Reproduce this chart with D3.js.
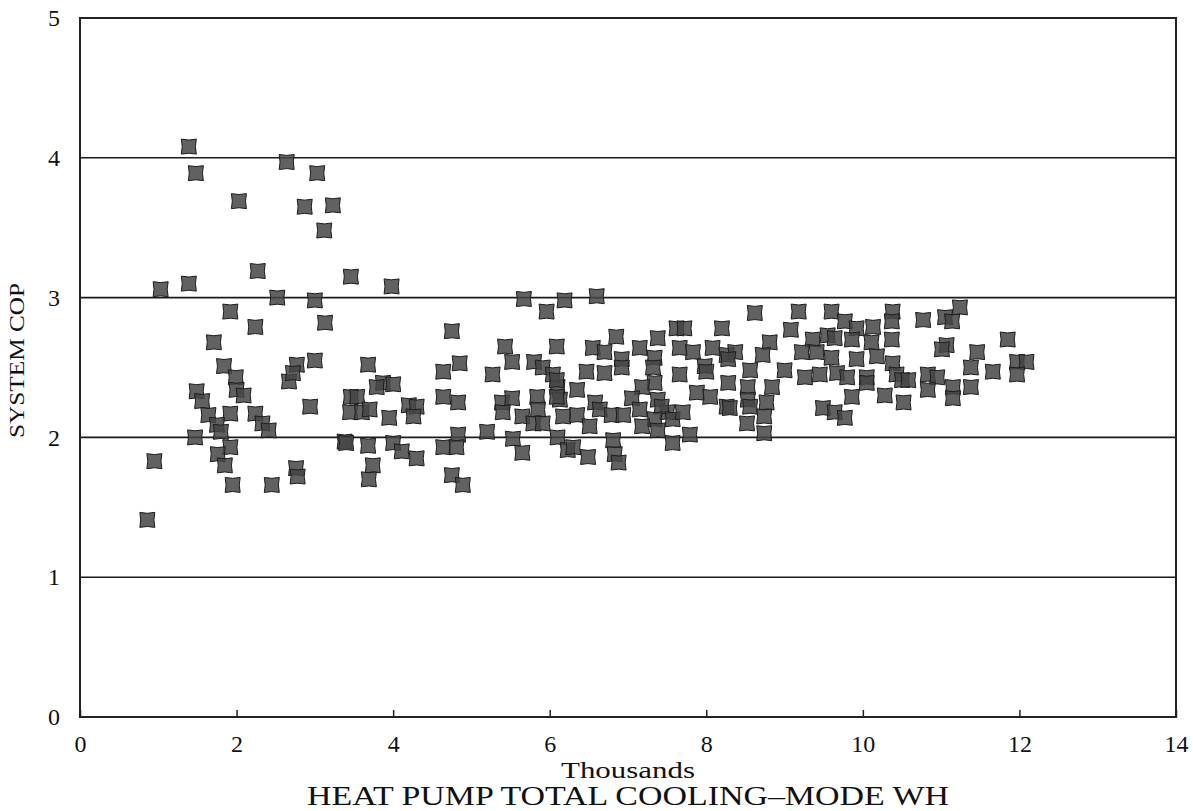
<!DOCTYPE html>
<html>
<head>
<meta charset="utf-8">
<script src="https://cdn.jsdelivr.net/npm/d3@7"></script>
<style>
  body { margin: 0; background: #fff; }
  svg { display: block; font-family: "Liberation Serif", "DejaVu Serif", serif; }
</style>
</head>
<body>
<div id="chart"></div>
<script>
// heat pump cooling energy (thousands of Wh) vs system COP
var cooling = [
  1.39, 1.48, 2.64, 3.03, 2.03, 2.87, 3.23, 3.12, 2.27, 3.46, 1.03, 1.39, 2.52, 3.00, 1.92, 2.24, 3.13,
  1.71, 1.84, 2.77, 3.00, 2.67, 2.72, 1.99, 2.00, 2.09, 1.49, 1.56, 1.64, 1.92, 2.24, 2.33, 2.41, 1.75,
  1.80, 2.94, 1.47, 1.92, 1.76, 1.85, 0.95, 1.95, 2.45, 2.76, 2.78, 0.86, 3.38, 3.46, 3.45,
  3.98, 5.67, 5.96, 6.19, 4.75, 5.43, 5.52, 6.09, 5.80, 5.91, 3.68, 3.87, 4.00, 3.79, 4.64, 4.85, 5.27,
  3.54, 3.60, 3.70, 3.95, 4.20, 4.30, 4.26, 4.64, 4.83, 5.39, 5.52, 5.40, 5.65, 5.84, 5.85, 5.79, 6.10,
  6.13, 6.17, 3.40, 3.68, 4.00, 4.11, 4.30, 3.74, 3.69, 4.64, 4.83, 4.81, 4.75, 4.89, 5.20, 5.53, 5.65,
  6.10, 6.23, 6.04,
  6.60, 6.85, 7.62, 7.72, 8.20, 7.38, 6.55, 6.70, 6.92, 7.15, 7.34, 7.66, 7.83, 8.08, 8.26, 7.98, 6.47,
  6.70, 6.92, 7.32, 7.66, 7.34, 7.18, 8.28, 6.09, 6.09, 6.35, 6.58, 7.05, 7.38, 7.88, 8.05, 8.26, 5.91,
  6.35, 6.64, 6.79, 6.94, 7.15, 7.50, 7.43, 7.34, 7.57, 7.70, 6.51, 7.18, 7.38, 7.79, 7.57, 6.30, 6.49,
  6.81, 6.83, 6.88,
  8.62, 9.18, 9.60, 9.08, 9.77, 9.92, 10.13, 10.38, 10.37, 8.37, 8.28, 8.81, 8.72, 9.36, 9.55, 9.64,
  9.22, 9.41, 9.60, 9.86, 9.92, 10.11, 10.18, 10.37, 10.38, 8.00, 8.56, 9.00, 9.26, 9.45, 9.67, 9.80,
  10.05, 10.43, 8.53, 8.84, 8.53, 8.77, 8.30, 8.56, 9.86, 10.05, 10.28, 9.49, 9.64, 9.77, 8.52, 8.74, 8.74,
  10.77, 11.05, 11.14, 11.24, 11.07, 11.01, 11.46, 11.85, 11.38, 11.66, 11.97, 12.09, 11.97, 10.50,
  10.58, 10.83, 10.95, 10.83, 11.15, 11.38, 11.15, 10.52
];
var cop = [
  4.08, 3.89, 3.97, 3.89, 3.69, 3.65, 3.66, 3.48, 3.19, 3.15, 3.06, 3.10, 3.00, 2.98, 2.90, 2.79, 2.82,
  2.68, 2.51, 2.52, 2.55, 2.40, 2.46, 2.43, 2.34, 2.30, 2.33, 2.26, 2.16, 2.17, 2.17, 2.10, 2.05, 2.09,
  2.04, 2.22, 2.00, 1.93, 1.88, 1.80, 1.83, 1.66, 1.66, 1.78, 1.72, 1.41, 1.97, 2.29, 2.18,
  3.08, 2.99, 2.90, 2.98, 2.76, 2.65, 2.54, 2.65, 2.54, 2.50, 2.52, 2.39, 2.38, 2.36, 2.47, 2.53, 2.45,
  2.29, 2.18, 2.20, 2.14, 2.23, 2.22, 2.15, 2.29, 2.25, 2.25, 2.28, 2.18, 2.15, 2.29, 2.20, 2.10, 2.36,
  2.27, 2.15, 1.96, 1.94, 1.96, 1.90, 1.85, 1.80, 1.70, 1.93, 2.02, 1.93, 1.73, 1.66, 2.04, 1.99, 1.89,
  2.00, 1.91, 2.45,
  3.01, 2.72, 2.78, 2.78, 2.78, 2.71, 2.64, 2.61, 2.56, 2.64, 2.57, 2.64, 2.61, 2.64, 2.59, 2.51, 2.47,
  2.46, 2.50, 2.50, 2.45, 2.39, 2.36, 2.39, 2.41, 2.29, 2.34, 2.25, 2.28, 2.27, 2.32, 2.29, 2.22, 2.10,
  2.16, 2.20, 2.16, 2.16, 2.20, 2.18, 2.22, 2.13, 2.13, 2.18, 2.08, 2.08, 2.05, 2.02, 1.96, 1.93, 1.86,
  1.98, 1.88, 1.82,
  2.89, 2.90, 2.90, 2.77, 2.83, 2.78, 2.79, 2.90, 2.83, 2.61, 2.56, 2.68, 2.59, 2.70, 2.73, 2.71,
  2.61, 2.61, 2.57, 2.70, 2.56, 2.68, 2.58, 2.70, 2.53, 2.47, 2.48, 2.48, 2.43, 2.45, 2.46, 2.43,
  2.43, 2.45, 2.36, 2.36, 2.27, 2.25, 2.21, 2.22, 2.29, 2.39, 2.30, 2.21, 2.18, 2.14, 2.10, 2.15, 2.03,
  2.84, 2.86, 2.83, 2.93, 2.66, 2.63, 2.61, 2.70, 2.50, 2.47, 2.54, 2.54, 2.45, 2.41,
  2.41, 2.45, 2.43, 2.34, 2.36, 2.36, 2.28, 2.25
];
var xTicks = [0, 2, 4, 6, 8, 10, 12, 14];
var yTicks = [0, 1, 2, 3, 4, 5];

var margin = {top: 18, right: 17, bottom: 94, left: 80},
    width = 1193 - margin.left - margin.right,
    height = 811 - margin.top - margin.bottom;

var svg = d3.select("#chart").append("svg")
    .attr("width", width + margin.left + margin.right)
    .attr("height", height + margin.top + margin.bottom)
  .append("g")
    .attr("transform", "translate(" + margin.left + "," + margin.top + ")");

var x = d3.scaleLinear().domain([0, 14]).range([0, width]);
var y = d3.scaleLinear().domain([0, 5]).range([height, 0]);

// horizontal grid lines
svg.selectAll(".grid")
    .data(yTicks.filter(function(d) { return d > 0 && d < 5; }))
  .enter().append("line")
    .attr("x1", 0).attr("x2", width)
    .attr("y1", function(d) { return y(d); })
    .attr("y2", function(d) { return y(d); })
    .attr("stroke", "#1a1a1a")
    .attr("stroke-width", 1.6);

// frame
svg.append("rect")
    .attr("width", width).attr("height", height)
    .attr("fill", "none")
    .attr("stroke", "#222")
    .attr("stroke-width", 2);

// x axis, ticks point up into the plot
var xAxis = svg.append("g")
    .attr("transform", "translate(0," + height + ")")
    .call(d3.axisBottom(x).tickValues(xTicks).tickFormat(d3.format("d"))
      .tickSizeInner(-7).tickSizeOuter(0).tickPadding(18));
xAxis.select(".domain").remove();
xAxis.selectAll("line").attr("stroke", "#222").attr("stroke-width", 1.5);
xAxis.selectAll("text")
    .style("font-size", "24px")
    .style("font-family", "'Liberation Serif', serif")
    .attr("fill", "#111");

var yAxis = svg.append("g")
    .call(d3.axisLeft(y).tickValues(yTicks).tickFormat(d3.format("d")).tickSize(0).tickPadding(20));
yAxis.select(".domain").remove();
yAxis.selectAll("text")
    .style("font-size", "24px")
    .style("font-family", "'Liberation Serif', serif")
    .attr("fill", "#111");

// titles
svg.append("text")
    .attr("x", x(7)).attr("y", height + 61)
    .attr("text-anchor", "middle")
    .style("font-size", "23px").attr("fill", "#111")
    .attr("textLength", 134).attr("lengthAdjust", "spacingAndGlyphs")
    .text("Thousands");

svg.append("text")
    .attr("x", x(7)).attr("y", height + 88)
    .attr("text-anchor", "middle")
    .style("font-size", "27px").attr("fill", "#111")
    .attr("textLength", 642).attr("lengthAdjust", "spacingAndGlyphs")
    .text("HEAT PUMP TOTAL COOLING\u2013MODE WH");

svg.append("text")
    .attr("transform", "translate(-56," + y(2.55) + ") rotate(-90)")
    .attr("text-anchor", "middle")
    .style("font-size", "22px").attr("fill", "#111")
    .attr("textLength", 155).attr("lengthAdjust", "spacingAndGlyphs")
    .text("SYSTEM COP");

// square marker with slightly pinched sides
var pinched = {
  draw: function(ctx, size) {
    var s = Math.sqrt(size) / 2, p = s * 0.88;
    ctx.moveTo(-s, -s);
    ctx.lineTo(0, -p);
    ctx.lineTo(s, -s);
    ctx.lineTo(p, 0);
    ctx.lineTo(s, s);
    ctx.lineTo(0, p);
    ctx.lineTo(-s, s);
    ctx.lineTo(-p, 0);
    ctx.closePath();
  }
};
var symbol = d3.symbol().type(pinched).size(15 * 15);

var points = cooling.map(function(d, i) { return {x: d, y: cop[i]}; });

svg.selectAll(".pt")
    .data(points)
  .enter().append("path")
    .attr("class", "pt")
    .attr("d", symbol)
    .attr("transform", function(d) { return "translate(" + x(d.x) + "," + y(d.y) + ")"; })
    .attr("fill", "#454545")
    .attr("fill-opacity", 0.85)
    .attr("stroke", "#1c1c1c")
    .attr("stroke-width", 1);
</script>
</body>
</html>
